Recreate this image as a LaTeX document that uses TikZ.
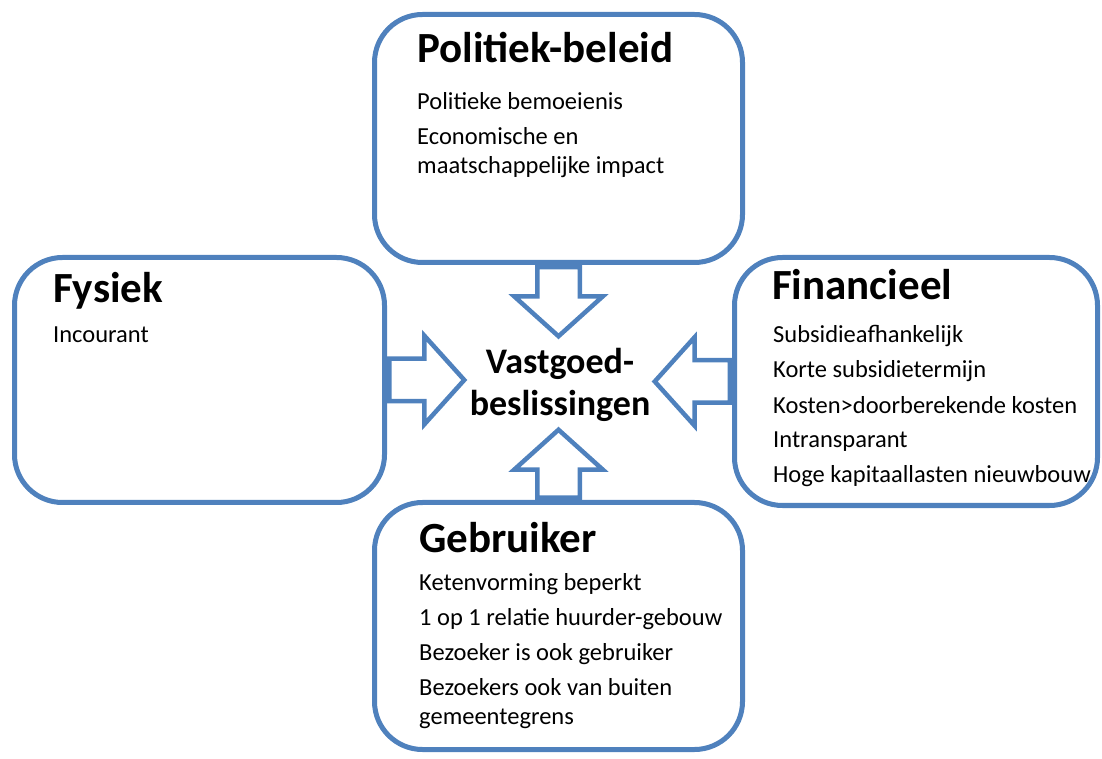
\documentclass[tikz,border=0pt]{standalone}
\usepackage{fontspec}
\setmainfont{Carlito}
\usetikzlibrary{shapes, arrows}
\usetikzlibrary{positioning}
\definecolor{boxblue}{RGB}{79,129,189}
\tikzstyle{box} = [rectangle, rounded corners = 48, draw = boxblue,
  line width = 5, fill = white, inner sep = 0]
\tikzstyle{title} = [anchor = base west, inner sep = 0,
  font = \fontsize{43}{50}\selectfont\bfseries]
\tikzstyle{body} = [
  anchor = base west, inner sep = 0, align = left,
  font = \fontsize{24.5}{29}\selectfont
]
\tikzstyle{blockarrow} = [single arrow, draw = boxblue, line width = 4.5,
  minimum width = 84, single arrow head extend = 23,
  single arrow tip angle = 96, inner xsep = 0, inner ysep = 19,
  anchor = tail]
\tikzstyle{centre} = [align = center, inner sep = 0,
  font = \fontsize{36}{42}\selectfont\bfseries]

\begin{document}
\begin{tikzpicture}[x = 1pt, y = 1pt]
      \useasboundingbox (0, 0) rectangle (1102, 758);
      \node [box, minimum width = 368, minimum height = 248] (box-top) at (558.5, 619.5) {};
      \node [box, minimum width = 370, minimum height = 245] (box-left) at (199.5, 378) {};
      \node [box, minimum width = 363, minimum height = 248] (box-right) at (916, 376.5) {};
      \node [box, minimum width = 368, minimum height = 247] (box-bottom) at (558.5, 132) {};

      \node [title] (title-top) at (417, 695) {Politiek-beleid};
      \node [body] (text-top) at (417, 584) {Politieke bemoeienis\\[6pt]
        Economische en\\maatschappelijke impact};
      \node [title] (title-left) at (53, 455) {Fysiek};
      \node [body] (text-left) at (53, 415) {Incourant};
      \node [title] (title-right) at (772, 458) {Financieel};
      \node [body] (text-right) at (773, 275) {Subsidieafhankelijk\\[6pt]
        Korte subsidietermijn\\[6pt] Kosten>doorberekende kosten\\[6pt]
        Intransparant\\[6pt] Hoge kapitaallasten nieuwbouw};
      \node [title] (title-bottom) at (419, 206) {Gebruiker};
      \node [body] (text-bottom) at (419, 34) {Ketenvorming beperkt\\[6pt]
        1 op 1 relatie huurder-gebouw\\[6pt] Bezoeker is ook gebruiker\\[6pt]
        Bezoekers ook van buiten\\gemeentegrens};

      \node [centre] (vastgoed) at (560, 373) {Vastgoed-\\beslissingen};

      \node [blockarrow, minimum height = 69, rotate = -90] (arrow-top) at (box-top.south) {};
      \node [blockarrow, minimum height = 75] (arrow-left) at (box-left.east) {};
      \node [blockarrow, minimum height = 75, rotate = 180] (arrow-right) at (box-right.west) {};
      \node [blockarrow, minimum height = 68, rotate = 90] (arrow-bottom) at (box-bottom.north) {};
    \end{tikzpicture}
\end{document}
